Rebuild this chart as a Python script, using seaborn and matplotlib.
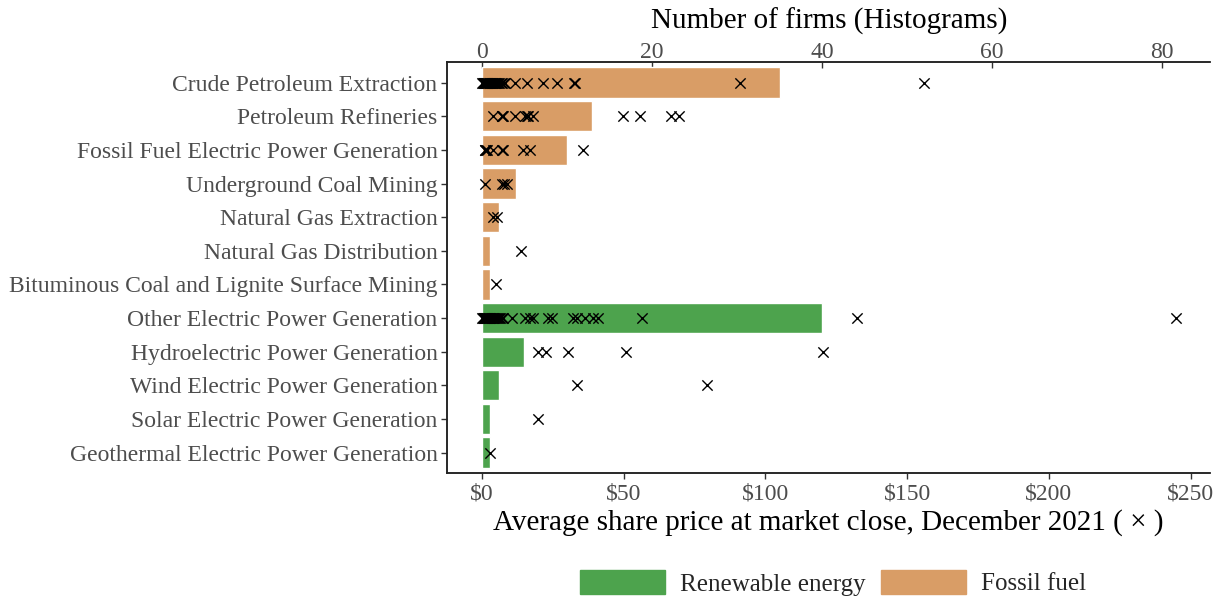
import numpy as np
import pandas as pd
import seaborn as sns
import matplotlib.pyplot as plt
from matplotlib.patches import Patch

categories = ['Crude Petroleum Extraction', 'Petroleum Refineries',
              'Fossil Fuel Electric Power Generation', 'Underground Coal Mining',
              'Natural Gas Extraction', 'Natural Gas Distribution',
              'Bituminous Coal and Lignite Surface Mining',
              'Other Electric Power Generation', 'Hydroelectric Power Generation',
              'Wind Electric Power Generation', 'Solar Electric Power Generation',
              'Geothermal Electric Power Generation']
groups = ['Fossil fuel'] * 7 + ['Renewable energy'] * 5
firm_counts = [35, 13, 10, 4, 2, 1, 1, 40, 5, 2, 1, 1]

# average share price per firm, by industry
prices = {
    'Crude Petroleum Extraction': [0.2, 0.4, 0.6, 0.8, 1.0, 1.2, 1.4, 1.6, 1.8, 2.0, 2.2, 2.5,
                                   2.8, 3.0, 3.3, 3.6, 4.0, 4.3, 4.7, 5.0, 5.4, 5.8, 6.2,
                                   6.7, 7.2, 7.8, 8.3, 11.6, 16.0, 21.6, 26.4, 32.5, 33.0,
                                   91.0, 156.0],
    'Petroleum Refineries': [3.9, 7.1, 7.2, 7.4, 11.6, 15.2, 15.8, 16.2, 18.0, 49.8, 55.8,
                             66.7, 69.6],
    'Fossil Fuel Electric Power Generation': [1.0, 1.2, 1.6, 2.0, 3.9, 7.1, 7.4, 14.5, 16.9, 35.7],
    'Underground Coal Mining': [1.0, 7.0, 8.0, 9.0],
    'Natural Gas Extraction': [4.0, 5.3],
    'Natural Gas Distribution': [13.7],
    'Bituminous Coal and Lignite Surface Mining': [4.9],
    'Other Electric Power Generation': [0.2, 0.4, 0.6, 0.8, 1.0, 1.2, 1.4, 1.6, 1.8, 2.0, 2.2,
                                        2.4, 2.7, 3.0, 3.3, 3.6, 3.9, 4.2, 4.5, 4.9, 5.3, 5.7,
                                        6.1, 6.5, 7.0, 7.4, 10.6, 15.2, 16.9, 18.0, 23.3, 24.7,
                                        32.0, 33.5, 36.4, 39.2, 40.9, 56.5, 132.5, 244.7],
    'Hydroelectric Power Generation': [19.8, 22.6, 30.4, 50.8, 120.4],
    'Wind Electric Power Generation': [33.5, 79.4],
    'Solar Electric Power Generation': [19.8],
    'Geothermal Electric Power Generation': [2.8],
}

palette = {'Renewable energy': '#4DA34D', 'Fossil fuel': '#D99D66'}

sns.set_theme(style='white')
plt.rcParams['font.family'] = ['Liberation Serif', 'DejaVu Serif']

bars = pd.DataFrame({'industry': categories, 'count': firm_counts, 'group': groups})
pts = pd.DataFrame([(c, p) for c in categories for p in prices[c]], columns=['industry', 'price'])
pts['pos'] = pts['industry'].map({c: i for i, c in enumerate(categories)})

fig, ax = plt.subplots(figsize=(12.25, 6), dpi=100)
fig.subplots_adjust(left=0.365, right=0.988, top=0.896, bottom=0.212)

sns.barplot(data=bars, y='industry', x='count', hue='group', palette=palette,
            order=categories, dodge=False, width=0.9, saturation=1, legend=False, ax=ax)
ax2 = ax.twiny()
sns.scatterplot(data=pts, x='price', y='pos', marker='x', color='black',
                s=55, linewidth=1.0, ax=ax2)

pmax = pts['price'].max()
plim = (-0.05 * pmax, 1.05 * pmax)
ax2.set_xlim(plim)
ax.set_xlim(plim[0] / 3, plim[1] / 3)
ax.set_ylim(11.6, -0.6)

# counts on top, prices at the bottom
ax.xaxis.tick_top()
ax.xaxis.set_label_position('top')
ax2.xaxis.tick_bottom()
ax2.xaxis.set_label_position('bottom')
ax.set_xticks([0, 20, 40, 60, 80])
ax2.set_xticks([0, 50, 100, 150, 200, 250])
ax2.set_xticklabels(['$0', '$50', '$100', '$150', '$200', '$250'])

ax.set_xlabel('Number of firms (Histograms)', fontsize=21, color='black', labelpad=10)
ax2.set_xlabel('Average share price at market close, December 2021 ( \u00d7 )',
               fontsize=21, color='black', labelpad=3)
ax.set_ylabel('')
ax2.set_ylabel('')

for a in (ax, ax2):
    a.tick_params(axis='both', labelsize=17, labelcolor='#4D4D4D', color='#333333',
                  length=4, width=1, pad=3)
    for s in a.spines.values():
        s.set_color('#222222')
        s.set_linewidth(1.1)
    a.spines['right'].set_visible(False)
ax.tick_params(axis='x', bottom=False, top=True, labelbottom=False, labeltop=True,
               direction='in', pad=-0.5)
ax.tick_params(axis='y', left=True)
ax2.tick_params(axis='x', bottom=True, top=False, pad=4)
ax2.tick_params(axis='y', left=False, right=False, labelleft=False, labelright=False)

handles = [Patch(color=palette['Renewable energy'], label='Renewable energy'),
           Patch(color=palette['Fossil fuel'], label='Fossil fuel')]
fig.legend(handles=handles, loc='lower center', bbox_to_anchor=(0.68, -0.03), ncol=2,
           frameon=False, fontsize=18, handlelength=3.4, handleheight=1.1,
           columnspacing=0.6, handletextpad=0.6)

fig.savefig('out.png', dpi=100)
